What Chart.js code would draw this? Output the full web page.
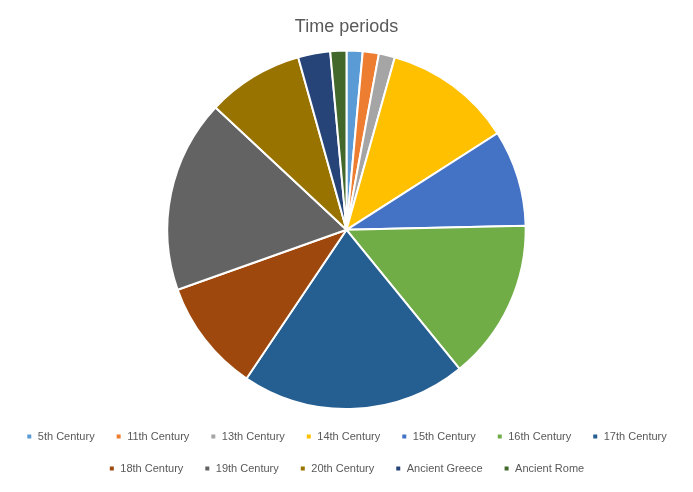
<!DOCTYPE html>
<html><head><meta charset="utf-8">
<script src="https://cdn.jsdelivr.net/npm/chart.js@4"></script>
<style>html,body{margin:0;padding:0;background:#fff}#w{width:693px;height:492px}</style>
</head><body><div id="w"><canvas id="c"></canvas></div>
<script>
const categories=["5th Century","11th Century","13th Century","14th Century","15th Century","16th Century","17th Century","18th Century","19th Century","20th Century","Ancient Greece","Ancient Rome"];
const values=[1,1,1,8,6,10,14,7,12,6,2,1];
const colors=["#5B9BD5","#ED7D31","#A5A5A5","#FFC000","#4472C4","#70AD47","#255E91","#9E480E","#636363","#997300","#264478","#43682B"];
new Chart(document.getElementById('c'),{type:'pie',
data:{labels:categories,datasets:[{data:values,backgroundColor:colors,borderColor:'#fff',borderWidth:2}]},
options:{responsive:true,maintainAspectRatio:false,animation:false,
layout:{padding:{top:4,bottom:8}},
plugins:{title:{display:true,text:'Time periods',color:'#595959',font:{family:'Liberation Sans',size:18,weight:'normal'},padding:{top:12,bottom:12}},
legend:{position:'bottom',labels:{color:'#595959',font:{family:'Liberation Sans',size:11},usePointStyle:true,pointStyle:'rect',boxWidth:6,boxHeight:6,padding:21}},
tooltip:{enabled:false}}}});
</script></body></html>
